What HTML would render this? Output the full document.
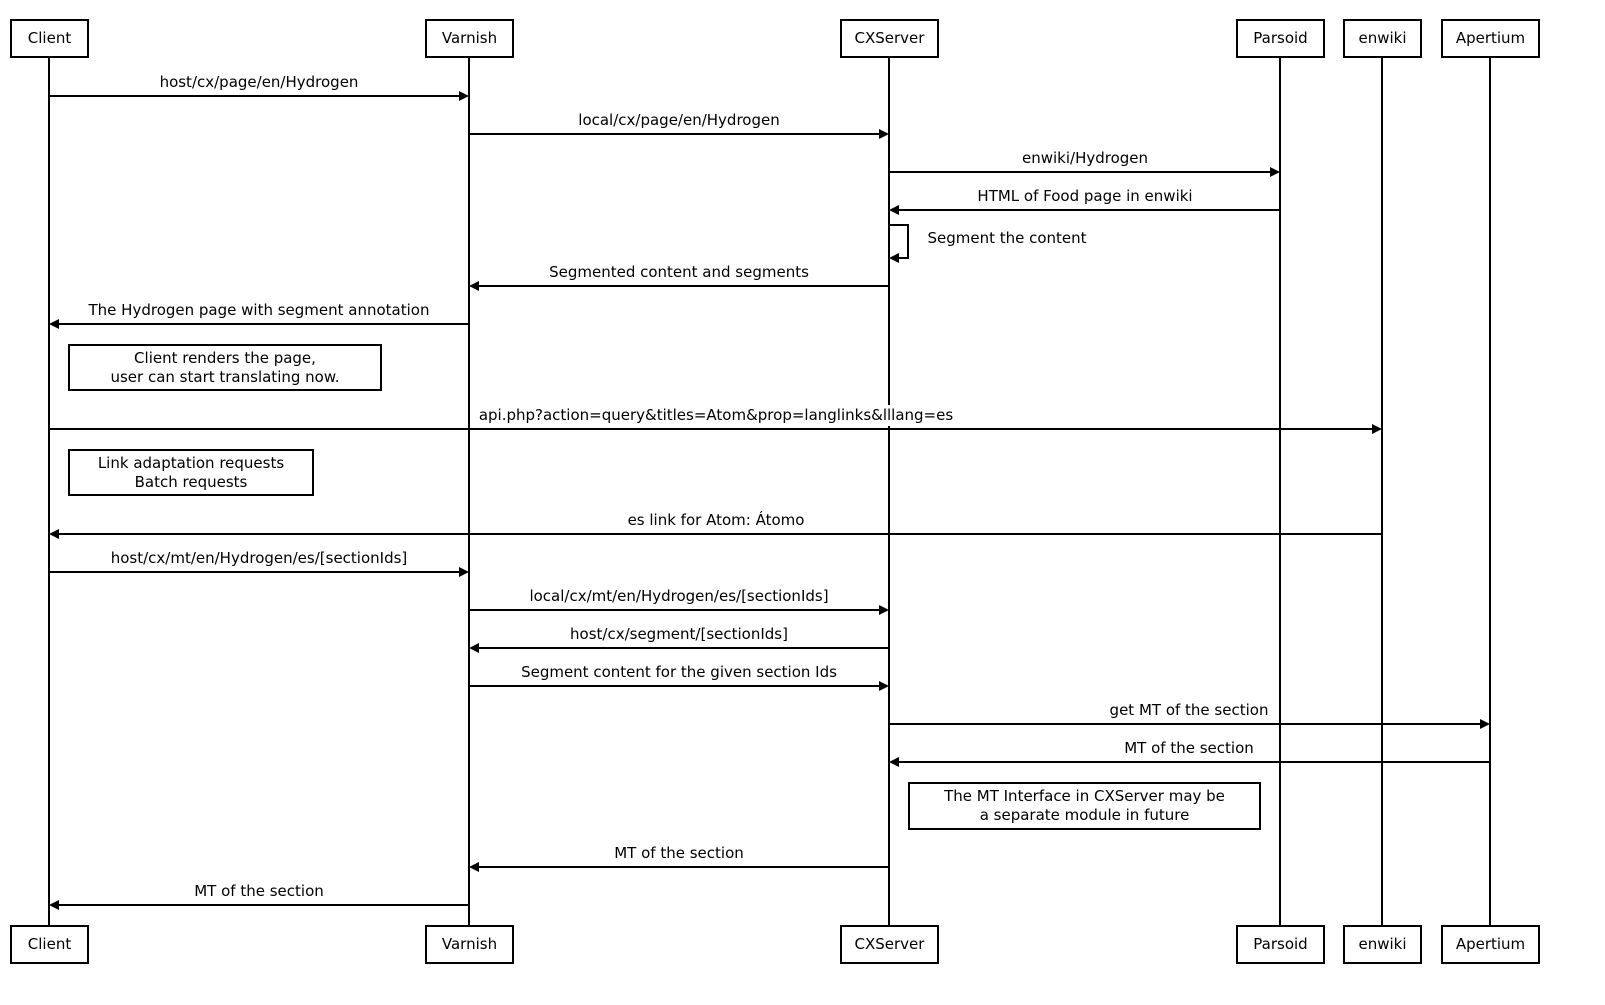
<!DOCTYPE html>
<html><head><meta charset="utf-8"><style>
html,body{margin:0;padding:0;background:#fff;}
#w{position:relative;width:1605px;height:1005px;overflow:hidden;font-family:"DejaVu Sans","Liberation Sans",sans-serif;font-size:15px;color:#000;}
svg{position:absolute;left:0;top:0;}
.l{position:absolute;height:21px;line-height:21px;background:#fff;padding:0 4px;white-space:nowrap;transform:translateX(-50%);}
.b{position:absolute;box-sizing:border-box;border:2px solid #000;background:#fff;text-align:center;display:flex;align-items:center;justify-content:center;line-height:19px;}
</style></head><body><div id="w">
<svg width="1605" height="1005">
<g stroke="#000" stroke-width="2">
<line x1="49" y1="57" x2="49" y2="925"/>
<line x1="469" y1="57" x2="469" y2="925"/>
<line x1="889" y1="57" x2="889" y2="925"/>
<line x1="1280" y1="57" x2="1280" y2="925"/>
<line x1="1382" y1="57" x2="1382" y2="925"/>
<line x1="1490" y1="57" x2="1490" y2="925"/>
</g>
</svg>
<div class="l" style="left:259px;top:72px">host/cx/page/en/Hydrogen</div>
<div class="l" style="left:679px;top:110px">local/cx/page/en/Hydrogen</div>
<div class="l" style="left:1085px;top:148px">enwiki/Hydrogen</div>
<div class="l" style="left:1085px;top:186px">HTML of Food page in enwiki</div>
<div class="l" style="left:1007px;top:228px">Segment the content</div>
<div class="l" style="left:679px;top:262px">Segmented content and segments</div>
<div class="l" style="left:259px;top:300px">The Hydrogen page with segment annotation</div>
<div class="l" style="left:716px;top:405px">api.php?action=query&amp;titles=Atom&amp;prop=langlinks&amp;lllang=es</div>
<div class="l" style="left:716px;top:510px">es link for Atom: Átomo</div>
<div class="l" style="left:259px;top:548px">host/cx/mt/en/Hydrogen/es/[sectionIds]</div>
<div class="l" style="left:679px;top:586px">local/cx/mt/en/Hydrogen/es/[sectionIds]</div>
<div class="l" style="left:679px;top:624px">host/cx/segment/[sectionIds]</div>
<div class="l" style="left:679px;top:662px">Segment content for the given section Ids</div>
<div class="l" style="left:1189px;top:700px">get MT of the section</div>
<div class="l" style="left:1189px;top:738px">MT of the section</div>
<div class="l" style="left:679px;top:843px">MT of the section</div>
<div class="l" style="left:259px;top:881px">MT of the section</div>

<div class="b" style="left:68px;top:344px;width:314px;height:47px">Client renders the page,<br>user can start translating now.</div>
<div class="b" style="left:68px;top:449px;width:246px;height:47px">Link adaptation requests<br>Batch requests</div>
<div class="b" style="left:908px;top:782px;width:353px;height:48px">The MT Interface in CXServer may be<br>a separate module in future</div>

<div class="b" style="left:10px;top:19px;width:79px;height:39px">Client</div>
<div class="b" style="left:425px;top:19px;width:89px;height:39px">Varnish</div>
<div class="b" style="left:840px;top:19px;width:99px;height:39px">CXServer</div>
<div class="b" style="left:1236px;top:19px;width:89px;height:39px">Parsoid</div>
<div class="b" style="left:1343px;top:19px;width:79px;height:39px">enwiki</div>
<div class="b" style="left:1441px;top:19px;width:99px;height:39px">Apertium</div>
<div class="b" style="left:10px;top:925px;width:79px;height:39px">Client</div>
<div class="b" style="left:425px;top:925px;width:89px;height:39px">Varnish</div>
<div class="b" style="left:840px;top:925px;width:99px;height:39px">CXServer</div>
<div class="b" style="left:1236px;top:925px;width:89px;height:39px">Parsoid</div>
<div class="b" style="left:1343px;top:925px;width:79px;height:39px">enwiki</div>
<div class="b" style="left:1441px;top:925px;width:99px;height:39px">Apertium</div>

<svg width="1605" height="1005">
<g stroke="#000" stroke-width="2" fill="none">
<line x1="49" y1="96" x2="460" y2="96"/>
<line x1="469" y1="134" x2="880" y2="134"/>
<line x1="889" y1="172" x2="1271" y2="172"/>
<line x1="1280" y1="210" x2="898" y2="210"/>
<polyline points="889,225 908,225 908,258 898,258"/>
<line x1="889" y1="286" x2="478" y2="286"/>
<line x1="469" y1="324" x2="58" y2="324"/>
<line x1="49" y1="429" x2="1373" y2="429"/>
<line x1="1382" y1="534" x2="58" y2="534"/>
<line x1="49" y1="572" x2="460" y2="572"/>
<line x1="469" y1="610" x2="880" y2="610"/>
<line x1="889" y1="648" x2="478" y2="648"/>
<line x1="469" y1="686" x2="880" y2="686"/>
<line x1="889" y1="724" x2="1481" y2="724"/>
<line x1="1490" y1="762" x2="898" y2="762"/>
<line x1="889" y1="867" x2="478" y2="867"/>
<line x1="469" y1="905" x2="58" y2="905"/>
</g>
<g fill="#000">
<polygon points="469,96 459,91 459,101"/>
<polygon points="889,134 879,129 879,139"/>
<polygon points="1280,172 1270,167 1270,177"/>
<polygon points="889,210 899,205 899,215"/>
<polygon points="889,258 899,253 899,263"/>
<polygon points="469,286 479,281 479,291"/>
<polygon points="49,324 59,319 59,329"/>
<polygon points="1382,429 1372,424 1372,434"/>
<polygon points="49,534 59,529 59,539"/>
<polygon points="469,572 459,567 459,577"/>
<polygon points="889,610 879,605 879,615"/>
<polygon points="469,648 479,643 479,653"/>
<polygon points="889,686 879,681 879,691"/>
<polygon points="1490,724 1480,719 1480,729"/>
<polygon points="889,762 899,757 899,767"/>
<polygon points="469,867 479,862 479,872"/>
<polygon points="49,905 59,900 59,910"/>
</g>
</svg>
</div></body></html>
